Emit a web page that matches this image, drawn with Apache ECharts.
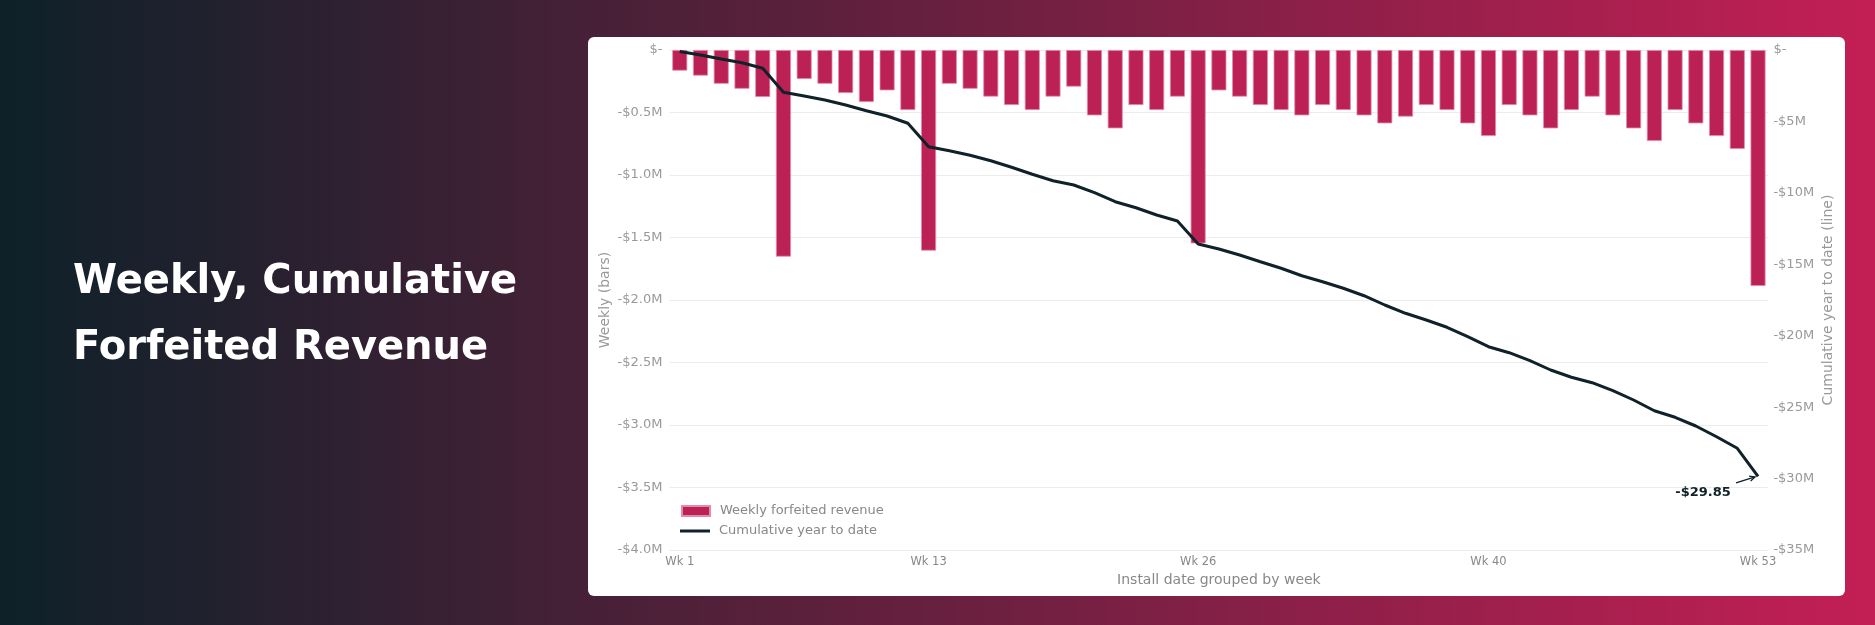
<!DOCTYPE html>
<html>
<head>
<meta charset="utf-8">
<script src="https://cdn.jsdelivr.net/npm/echarts@6/dist/echarts.min.js"></script>
<style>
  html, body { margin: 0; padding: 0; }
  #revenueChart { width: 1875px; height: 625px; }
</style>
</head>
<body>
<div id="revenueChart"></div>
<script>
(function () {
    // install weeks
    const weeks = [
        'Wk 1', 'Wk 2', 'Wk 3', 'Wk 4', 'Wk 5', 'Wk 6', 'Wk 7', 'Wk 8', 'Wk 9', 'Wk 10',
        'Wk 11', 'Wk 12', 'Wk 13', 'Wk 14', 'Wk 15', 'Wk 16', 'Wk 17', 'Wk 18', 'Wk 19', 'Wk 20',
        'Wk 21', 'Wk 22', 'Wk 23', 'Wk 24', 'Wk 25', 'Wk 26', 'Wk 27', 'Wk 28', 'Wk 29', 'Wk 30',
        'Wk 31', 'Wk 32', 'Wk 33', 'Wk 34', 'Wk 35', 'Wk 36', 'Wk 37', 'Wk 38', 'Wk 39', 'Wk 40',
        'Wk 41', 'Wk 42', 'Wk 43', 'Wk 44', 'Wk 45', 'Wk 46', 'Wk 47', 'Wk 48', 'Wk 49', 'Wk 50',
        'Wk 51', 'Wk 52', 'Wk 53'
    ];
    const shownWeeks = ['Wk 1', 'Wk 13', 'Wk 26', 'Wk 40', 'Wk 53'];

    // weekly forfeited revenue, $M
    const weeklyForfeited = [
        -0.165, -0.205, -0.27, -0.31, -0.376, -1.653, -0.232, -0.27, -0.344, -0.416,
        -0.323, -0.48, -1.605, -0.27, -0.31, -0.373, -0.44, -0.48, -0.373, -0.293,
        -0.523, -0.627, -0.44, -0.48, -0.373, -1.547, -0.323, -0.373, -0.44, -0.48,
        -0.523, -0.44, -0.48, -0.523, -0.587, -0.533, -0.44, -0.48, -0.587, -0.688,
        -0.44, -0.523, -0.627, -0.48, -0.373, -0.523, -0.627, -0.728, -0.48, -0.587,
        -0.688, -0.792, -1.888
    ];

    // cumulative year to date, $M
    const cumulativeYtd = [
        -0.1, -0.35, -0.63, -0.89, -1.28, -2.96, -3.22, -3.5, -3.85, -4.25,
        -4.62, -5.13, -6.77, -7.05, -7.37, -7.75, -8.21, -8.70, -9.15, -9.45,
        -9.99, -10.62, -11.04, -11.55, -11.97, -13.58, -13.93, -14.35, -14.82, -15.28,
        -15.8, -16.22, -16.68, -17.2, -17.85, -18.43, -18.9, -19.41, -20.07, -20.77,
        -21.19, -21.75, -22.4, -22.91, -23.29, -23.85, -24.5, -25.25, -25.71, -26.32,
        -27.07, -27.88, -29.85
    ];

    const barColor = '#bb2155';
    const lineColor = '#0f2129';
    const font = 'DejaVu Sans';

    const card = {
        type: 'rect',
        z: -10,
        shape: { x: 588, y: 37, width: 1257, height: 559, r: 6 },
        style: { fill: '#fff' }
    };

    let option = {
        backgroundColor: new echarts.graphic.LinearGradient(0, 0, 1, 0, [
            { offset: 0, color: '#0d2129' },
            { offset: 1, color: '#c31f55' }
        ]),
        textStyle: { fontFamily: font },
        title: {
            text: 'Weekly, Cumulative\nForfeited Revenue',
            left: 68,
            top: 245,
            textStyle: {
                color: '#fff',
                fontSize: 40,
                fontWeight: 'bold',
                fontFamily: font,
                lineHeight: 66
            }
        },
        graphic: [card],
        legend: [
            {
                orient: 'vertical',
                left: 676,
                top: 499.5,
                itemWidth: 28,
                itemHeight: 10,
                textStyle: { color: '#888', fontSize: 13, padding: [0, 0, 0, 5] },
                data: [{ name: 'Weekly forfeited revenue', icon: 'rect' }]
            },
            {
                orient: 'vertical',
                left: 675,
                top: 519.5,
                itemWidth: 30,
                itemHeight: 3,
                textStyle: { color: '#888', fontSize: 13, padding: [0, 0, 0, 4] },
                data: [{ name: 'Cumulative year to date', icon: 'rect' }]
            }
        ],
        grid: {
            left: 669.4,
            right: 106.6,
            top: 50,
            bottom: 75
        },
        xAxis: {
            type: 'category',
            data: weeks,
            name: 'Install date grouped by week',
            nameLocation: 'middle',
            nameGap: 23,
            nameMoveOverlap: false,
            nameTextStyle: { color: '#888', fontSize: 14 },
            axisLine: { show: false },
            axisTick: { show: false },
            axisLabel: {
                color: '#888',
                fontSize: 11.5,
                margin: 6,
                interval: function (idx, val) {
                    return shownWeeks.indexOf(val) > -1;
                }
            }
        },
        yAxis: [
            {
                type: 'value',
                min: -4,
                max: 0,
                interval: 0.5,
                name: 'Weekly (bars)',
                nameLocation: 'middle',
                nameGap: 57,
                nameMoveOverlap: false,
                nameTextStyle: { color: '#999', fontSize: 14 },
                axisLabel: {
                    color: '#999',
                    fontSize: 13,
                    margin: 7,
                    formatter: function (v) {
                        return v === 0 ? '$-' : '-$' + Math.abs(v).toFixed(1) + 'M';
                    }
                },
                splitLine: { lineStyle: { color: '#ececec', width: 1 } }
            },
            {
                type: 'value',
                min: -35,
                max: 0,
                interval: 5,
                name: 'Cumulative year to date (line)',
                nameLocation: 'middle',
                nameGap: 53,
                nameMoveOverlap: false,
                nameTextStyle: { color: '#999', fontSize: 14 },
                axisLabel: {
                    color: '#999',
                    fontSize: 13,
                    margin: 5,
                    formatter: function (v) {
                        return v === 0 ? '$-' : '-$' + Math.abs(v) + 'M';
                    }
                },
                splitLine: { show: false }
            }
        ],
        series: [
            {
                name: 'Weekly forfeited revenue',
                type: 'bar',
                barWidth: 15,
                itemStyle: {
                    color: barColor,
                    borderColor: '#e58aa6',
                    borderWidth: 0.8
                },
                data: weeklyForfeited
            },
            {
                name: 'Cumulative year to date',
                type: 'line',
                yAxisIndex: 1,
                symbol: 'none',
                lineStyle: { color: lineColor, width: 3 },
                itemStyle: { color: lineColor },
                z: 5,
                data: cumulativeYtd
            }
        ]
    };

    let myChart = echarts.init(document.getElementById('revenueChart'));
    myChart.setOption(option);

    // end-of-year callout, placed from the last line point
    const lastIdx = cumulativeYtd.length - 1;
    const lastVal = cumulativeYtd[lastIdx];
    const p = myChart.convertToPixel({ seriesIndex: 1 }, [lastIdx, lastVal]);
    const tip = [p[0] - 3, p[1] + 0.5];
    const tail = [p[0] - 22, p[1] + 6.5];
    const ang = Math.atan2(tip[1] - tail[1], tip[0] - tail[0]);
    const head = 6;
    const h1 = [tip[0] - head * Math.cos(ang - 0.45), tip[1] - head * Math.sin(ang - 0.45)];
    const h2 = [tip[0] - head * Math.cos(ang + 0.45), tip[1] - head * Math.sin(ang + 0.45)];

    myChart.setOption({
        graphic: [
            card,
            {
                type: 'polyline',
                z: 20,
                shape: { points: [tail, tip] },
                style: { stroke: lineColor, lineWidth: 1.3, fill: null }
            },
            {
                type: 'polyline',
                z: 20,
                shape: { points: [h1, tip, h2] },
                style: { stroke: lineColor, lineWidth: 1.3, fill: null }
            },
            {
                type: 'text',
                z: 20,
                x: p[0] - 55,
                y: p[1] + 16.5,
                style: {
                    text: '-$' + Math.abs(lastVal).toFixed(2),
                    fill: lineColor,
                    font: 'bold 13px "DejaVu Sans"',
                    align: 'center',
                    verticalAlign: 'middle'
                }
            }
        ]
    });
}());
</script>
</body>
</html>
